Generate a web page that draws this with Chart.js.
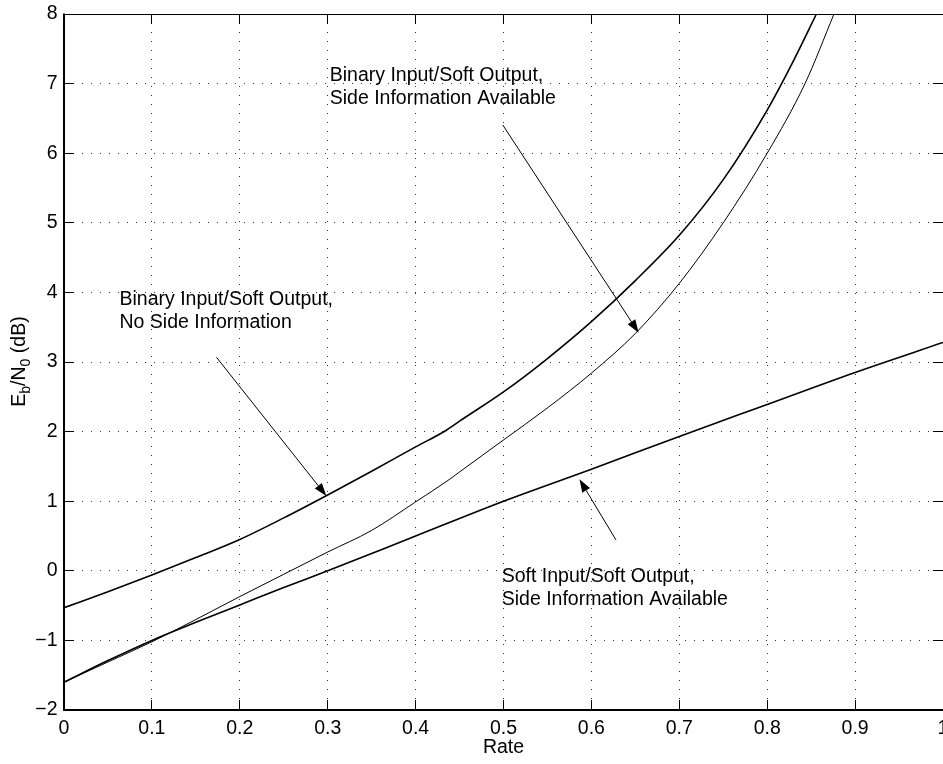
<!DOCTYPE html>
<html><head><meta charset="utf-8">
<script src="https://cdn.jsdelivr.net/npm/chart.js@4.4.1/dist/chart.umd.min.js"></script>
<style>html,body{margin:0;padding:0;background:#fff;}canvas{display:block;}</style>
</head><body>
<canvas id="c" width="943" height="764"></canvas>
<script>
// ---- data ----
const xTicks = [0,0.1,0.2,0.3,0.4,0.5,0.6,0.7,0.8,0.9,1];
const xTickLabels = ['0','0.1','0.2','0.3','0.4','0.5','0.6','0.7','0.8','0.9','1'];
const yTicks = [-2,-1,0,1,2,3,4,5,6,7,8];
const yTickLabels = ['\u22122','\u22121','0','1','2','3','4','5','6','7','8'];

const rateNoSide = [0,0.05,0.1,0.15,0.2,0.25,0.3,0.35,0.4,0.435,0.45,0.5,0.55,0.6,0.65,0.7,0.75,0.8,0.83,0.856];
const ebn0NoSide = [-0.53,-0.30,-0.06,0.19,0.45,0.76,1.09,1.43,1.78,2.02,2.15,2.57,3.05,3.58,4.17,4.82,5.62,6.62,7.33,8.0];

const rateSideBin = [0,0.05,0.1,0.15,0.2,0.25,0.3,0.35,0.4,0.437,0.45,0.5,0.55,0.6,0.65,0.7,0.75,0.8,0.843,0.876];
const ebn0SideBin = [-1.6,-1.31,-1.02,-0.70,-0.37,-0.05,0.27,0.58,0.99,1.30,1.42,1.88,2.34,2.84,3.41,4.13,5.0,6.0,7.0,8.0];

const rateSoft = [0,0.05,0.1,0.15,0.2,0.25,0.3,0.4,0.5,0.6,0.7,0.8,0.9,1.0];
const ebn0Soft = [-1.6,-1.29,-1.0,-0.74,-0.49,-0.24,0.0,0.5,1.0,1.46,1.93,2.39,2.85,3.28];

const xTitle = 'Rate';
const yTitleParts = [['E',false],['b',true],['/N',false],['0',true],[' (dB)',false]];

const noteLabels = [
  ['Binary Input/Soft Output,','Side Information Available'],
  ['Binary Input/Soft Output,','No Side Information'],
  ['Soft Input/Soft Output,','Side Information Available']
];
const noteTextAt = [[0.3023,7.113],[0.0631,3.891],[0.498,-0.085]];
const arrowFrom = [[0.4992,6.405],[0.1735,3.067],[0.628,0.443]];
const arrowTo   = [[0.6537,3.421],[0.2985,1.075],[0.5864,1.315]];

// ---- rendering ----
const FONT = '"Liberation Sans", Arial, Helvetica, sans-serif';
const FS = 19.5;
const pts = (xs, ys) => xs.map((v,i)=>({x:v,y:ys[i]}));

const decor = {
  id:'decor',
  beforeDraw(chart){
    const ctx = chart.ctx; ctx.save(); ctx.fillStyle='#fff'; ctx.fillRect(0,0,chart.width,chart.height); ctx.restore();
  },
  afterDatasetsDraw(chart){
    const {ctx, chartArea:a, scales:{x,y}} = chart;
    const al = p => Math.round(p-0.5)+0.5;
    ctx.save();
    // inward ticks
    ctx.strokeStyle='#000'; ctx.lineWidth=1; ctx.beginPath();
    xTicks.forEach(v=>{const p=al(x.getPixelForValue(v)); ctx.moveTo(p,a.bottom); ctx.lineTo(p,a.bottom-10); ctx.moveTo(p,a.top); ctx.lineTo(p,a.top+10);});
    yTicks.forEach(v=>{const p=al(y.getPixelForValue(v)); ctx.moveTo(a.left,p); ctx.lineTo(a.left+10,p); ctx.moveTo(a.right,p); ctx.lineTo(a.right-10,p);});
    ctx.stroke();
    // frame
    ctx.beginPath(); ctx.lineWidth=1;
    ctx.moveTo(a.left,al(a.top)); ctx.lineTo(a.right,al(a.top));
    ctx.moveTo(al(a.right),a.top); ctx.lineTo(al(a.right),a.bottom);
    ctx.stroke();
    ctx.beginPath(); ctx.lineWidth=2;
    ctx.moveTo(a.left,a.top-0.5); ctx.lineTo(a.left,a.bottom+1);
    ctx.moveTo(a.left-1,a.bottom); ctx.lineTo(a.right,a.bottom);
    ctx.stroke();
    // tick labels
    ctx.fillStyle='#000'; ctx.font = FS+'px '+FONT;
    ctx.textAlign='center'; ctx.textBaseline='middle';
    xTicks.forEach((v,i)=>ctx.fillText(xTickLabels[i], x.getPixelForValue(v), a.bottom+18.7));
    ctx.textAlign='right';
    yTicks.forEach((v,i)=>ctx.fillText(yTickLabels[i], a.left-6.5, y.getPixelForValue(v)));
    // x title
    ctx.textAlign='center';
    ctx.fillText(xTitle, (a.left+a.right)/2, a.bottom+37.5);
    // y title (rotated with subscripts)
    ctx.save();
    ctx.translate(25, (a.top+a.bottom)/2 - 0.5);
    ctx.rotate(-Math.PI/2);
    ctx.textAlign='left'; ctx.textBaseline='alphabetic';
    const subFS = FS*0.72;
    let total = 0;
    yTitleParts.forEach(([t,s])=>{ctx.font=(s?subFS:FS)+'px '+FONT; total+=ctx.measureText(t).width;});
    let cx = -total/2;
    yTitleParts.forEach(([t,s])=>{ctx.font=(s?subFS:FS)+'px '+FONT; ctx.fillText(t,cx,s?5:0); cx+=ctx.measureText(t).width;});
    ctx.restore();
    // annotations
    ctx.font = FS+'px '+FONT; ctx.textAlign='left'; ctx.textBaseline='middle';
    noteLabels.forEach((lines,i)=>{
      const px = x.getPixelForValue(noteTextAt[i][0]), py = y.getPixelForValue(noteTextAt[i][1]);
      lines.forEach((l,j)=>ctx.fillText(l, px, py + j*22.6));
    });
    // arrows
    arrowFrom.forEach((f,i)=>{
      const x1=x.getPixelForValue(f[0]), y1=y.getPixelForValue(f[1]);
      const x2=x.getPixelForValue(arrowTo[i][0]), y2=y.getPixelForValue(arrowTo[i][1]);
      const ang=Math.atan2(y2-y1,x2-x1), L=13, W=4.5;
      const bx=x2-L*Math.cos(ang), by=y2-L*Math.sin(ang);
      ctx.beginPath(); ctx.lineWidth=1; ctx.strokeStyle='#000';
      ctx.moveTo(x1,y1); ctx.lineTo(bx,by); ctx.stroke();
      ctx.beginPath();
      ctx.moveTo(x2,y2);
      ctx.lineTo(bx+W*Math.sin(ang), by-W*Math.cos(ang));
      ctx.lineTo(bx-W*Math.sin(ang), by+W*Math.cos(ang));
      ctx.closePath(); ctx.fill();
    });
    ctx.restore();
  }
};

const lineDs = (data, w) => ({data, borderColor:'#000', borderWidth:w, pointRadius:0, fill:false, cubicInterpolationMode:'monotone'});

new Chart(document.getElementById('c'), {
  type:'line',
  data:{datasets:[
    lineDs(pts(rateNoSide, ebn0NoSide), 1.6),
    lineDs(pts(rateSideBin, ebn0SideBin), 1),
    lineDs(pts(rateSoft, ebn0Soft), 1.6)
  ]},
  options:{
    responsive:false, animation:false, devicePixelRatio:1,
    layout:{padding:{top:14,left:0,right:-1,bottom:0}},
    plugins:{legend:{display:false}, tooltip:{enabled:false}},
    scales:{
      x:{type:'linear', min:0, max:1,
         ticks:{display:false, stepSize:0.1},
         grid:{color:'#333', lineWidth:1, drawTicks:false},
         border:{display:false, dash:[1,8]},
         afterFit(s){ s.height=54; s.paddingLeft=0; s.paddingRight=0; }},
      y:{type:'linear', min:-2, max:8,
         ticks:{display:false, stepSize:1},
         grid:{color:'#333', lineWidth:1, drawTicks:false},
         border:{display:false, dash:[1,8]},
         afterFit(s){ s.width=64; s.paddingTop=0; s.paddingBottom=0; }}
    }
  },
  plugins:[decor]
});
</script>
</body></html>
